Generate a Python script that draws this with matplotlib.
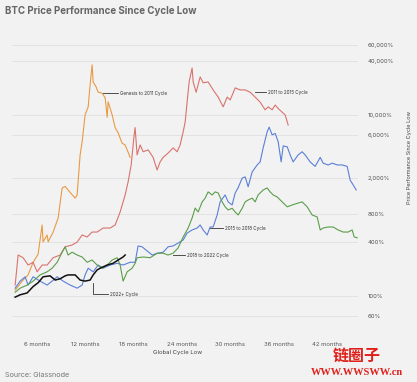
import matplotlib
matplotlib.use("Agg")
import matplotlib.pyplot as plt
from matplotlib.ticker import FixedLocator, NullLocator

plt.rcParams['font.family'] = ['Inter', 'DejaVu Sans']

# x in months since cycle low, y in % performance
genesis_m = [3.27, 4.14, 4.88, 5.5, 6.12, 6.62, 6.74, 7.24, 7.37, 7.99, 8.61, 9.11, 9.48, 10.1,
             10.72, 10.97, 11.09, 11.34, 11.59, 11.96, 12.34, 12.58, 12.83, 12.96, 13.33, 13.58,
             14.07, 14.45, 14.7, 14.82, 15.32, 15.69, 16.06, 16.56, 16.93, 17.3, 17.55]
genesis_v = [116, 146, 171, 236, 290, 611, 397, 473, 397, 510, 730, 1570, 1630, 1400,
             1210, 1313, 1830, 3640, 5100, 10100, 12400, 21700, 36200, 23400, 20600, 18000,
             17600, 15600, 9500, 14100, 10100, 7300, 6400, 4900, 4700, 3900, 3420]

c2011_m = [3.27, 3.64, 4.26, 4.88, 5.5, 6.0, 6.62, 7.24, 7.99, 8.86, 9.48, 10.35, 10.97, 11.59,
           12.21, 12.83, 13.45, 14.2, 15.07, 15.69, 16.31, 16.93, 17.3, 17.68, 18.05, 18.17,
           18.42, 18.79, 19.17, 19.79, 20.41, 20.9, 21.28, 21.65, 22.27, 22.89, 23.39, 23.76,
           24.14, 24.39, 24.63, 24.88, 25.25, 25.38, 25.75, 26.25, 26.62, 27.24, 27.86, 28.49,
           29.11, 29.6, 29.98, 30.6, 31.22, 31.84, 32.46, 33.08, 33.7, 34.32, 34.7, 35.19,
           35.57, 35.94, 36.44, 36.81, 37.18]
c2011_v = [132, 284, 265, 220, 236, 185, 220, 220, 265, 284, 350, 367, 395, 473,
           450, 510, 510, 565, 565, 611, 850, 1313, 1830, 2820, 6070, 7300,
           3640, 4700, 3950, 4140, 3420, 2480, 3050, 3420, 3820, 4360, 3950, 4700,
           6550, 8460, 14000, 23400, 33400, 23400, 18000, 26600, 22900, 23400, 19100, 15900,
           12400, 15900, 14800, 20100, 19100, 19100, 18000, 15900, 14000, 11500, 12400, 11500,
           13000, 11900, 10800, 10100, 7800]

c2015_m = [3.27, 3.89, 4.51, 4.88, 5.5, 6.37, 7.24, 7.86, 8.49, 9.23, 10.1, 10.97, 11.59, 11.96,
           12.34, 12.96, 13.58, 14.2, 15.07, 15.94, 16.68, 17.55, 18.17, 18.54, 19.04, 19.66,
           20.29, 20.91, 21.65, 22.27, 22.89, 23.51, 24.14, 24.63, 25.25, 25.88, 26.25, 26.62,
           27.12, 27.49, 27.86, 28.36, 28.73, 29.35, 29.73, 30.22, 30.6, 30.97, 31.47, 31.84,
           32.21, 32.71, 33.33, 33.7, 34.07, 34.57, 34.82, 35.19, 35.57, 35.94, 36.31, 36.56,
           37.06, 37.43, 37.8, 38.42, 38.92, 39.29, 39.91, 40.53, 41.16, 41.53, 42.15, 42.65,
           43.27, 43.89, 44.51, 44.88, 45.26, 45.63]
c2015_v = [122, 146, 163, 132, 163, 146, 132, 146, 163, 146, 132, 122, 132, 171,
           203, 185, 220, 203, 220, 230, 220, 236, 236, 358, 350, 315,
           284, 297, 305, 350, 358, 385, 417, 497, 538, 565, 611, 538,
           473, 580, 580, 788, 1100, 1313, 1100, 1017, 1380, 1580, 2020, 2080,
           1620, 2360, 2820, 3050, 4350, 6550, 7400, 6070, 6300, 5100, 3050, 4580,
           4480, 3640, 3050, 3640, 3950, 3640, 3050, 2720, 3420, 2950, 2820, 2950,
           2820, 2820, 2720, 1920, 1690, 1490]

c2018_m = [3.27, 3.89, 4.76, 5.5, 6.37, 7.24, 7.86, 8.49, 9.11, 9.48, 9.85, 10.35, 10.97, 11.59,
           12.21, 12.83, 13.45, 14.07, 14.7, 15.32, 15.94, 16.31, 16.68, 17.18, 17.8, 18.17,
           18.42, 19.17, 20.04, 20.91, 21.65, 22.27, 22.89, 23.51, 24.14, 24.76, 25.25, 25.63,
           26.0, 26.5, 26.87, 27.24, 27.74, 28.11, 28.49, 28.98, 29.35, 29.73, 30.22, 30.6,
           30.97, 31.47, 31.84, 32.21, 32.71, 33.08, 33.45, 34.07, 34.57, 34.94, 35.32, 35.81,
           36.44, 37.06, 37.68, 38.3, 38.92, 39.54, 40.16, 40.78, 41.16, 41.53, 42.15, 42.77,
           43.39, 44.01, 44.63, 45.13, 45.38, 45.75]
c2018_v = [110, 122, 132, 146, 171, 185, 203, 236, 305, 350, 284, 305, 284, 270,
           236, 250, 220, 203, 220, 250, 265, 220, 146, 185, 203, 230,
           265, 270, 265, 297, 297, 284, 297, 340, 450, 565, 730, 940,
           850, 1100, 1210, 1420, 1313, 1420, 1380, 1100, 970, 895, 935, 850,
           788, 935, 1100, 1155, 1210, 1100, 1313, 1490, 1570, 1420, 1313, 1250,
           1100, 970, 1017, 1060, 1100, 970, 788, 750, 538, 565, 580, 580,
           538, 510, 510, 538, 450, 440]

c2022_m = [3.27, 3.89, 4.76, 5.5, 6.12, 6.74, 7.61, 8.24, 8.86, 9.48, 9.85, 10.72, 11.34, 11.96,
           12.58, 12.96, 13.45, 13.83, 14.7, 15.44, 16.06, 16.68, 16.93]
c2022_v = [97, 103, 108, 127, 140, 163, 167, 150, 155, 167, 171, 171, 150, 146,
           150, 171, 194, 203, 220, 230, 250, 270, 284]

month_ticks = [6, 12, 18, 24, 30, 36, 42]
month_labels = ['6 months', '12 months', '18 months', '24 months', '30 months', '36 months', '42 months']
pct_ticks = [60, 100, 400, 800, 2000, 6000, 10000, 40000, 60000]
pct_labels = ['60%', '100%', '400%', '800%', '2,000%', '6,000%', '10,000%', '40,000%', '60,000%']

bg = '#f2f2f2'
fig = plt.figure(figsize=(4.17, 3.82), dpi=100, facecolor=bg)
ax = fig.add_axes([0.029, 0.1675, 0.83, 0.728], facecolor=bg)

ax.plot(genesis_m, genesis_v, color='#e89a45', lw=0.8)
ax.plot(c2011_m, c2011_v, color='#d9736e', lw=0.8)
ax.plot(c2015_m, c2015_v, color='#5a7fd8', lw=0.8)
ax.plot(c2018_m, c2018_v, color='#5a9e4a', lw=0.8)
ax.plot(c2022_m, c2022_v, color='#111111', lw=1.1)

ax.set_yscale('log')
ax.set_xlim(2.89, 45.88)
ax.set_ylim(57, 68300)

ax.yaxis.tick_right()
ax.yaxis.set_major_locator(FixedLocator(pct_ticks))
ax.set_yticklabels(pct_labels)
ax.yaxis.set_minor_locator(NullLocator())
ax.set_xticks(month_ticks)
ax.set_xticklabels(month_labels)
ax.tick_params(axis='both', length=0, labelsize=4.3, colors='#555555')
ax.tick_params(axis='x', pad=17)
ax.tick_params(axis='y', pad=7)
for lab in ax.get_yticklabels():
    lab.set_horizontalalignment('left')

ax.grid(axis='y', color='#e0e0e0', lw=0.6)
ax.grid(axis='x', visible=False)
for s in ax.spines.values():
    s.set_visible(False)

# cycle labels with leader lines
lead = dict(color='#333333', lw=0.6)
txt = dict(fontsize=3.3, color='#333333', va='center')
ax.plot([14.2, 16.1], [17600, 17600], **lead)
ax.text(16.31, 17600, 'Genesis to 2011 Cycle', **txt)
ax.plot([33.08, 34.45], [18000, 18000], **lead)
ax.text(34.7, 18000, '2011 to 2015 Cycle', **txt)
ax.plot([27.49, 29.1], [565, 565], **lead)
ax.text(29.35, 565, '2015 to 2018 Cycle', **txt)
ax.plot([22.89, 24.4], [284, 284], **lead)
ax.text(24.63, 284, '2018 to 2022 Cycle', **txt)
ax.plot([12.96, 12.96, 14.82], [140, 105, 105], **lead)
ax.text(15.1, 105, '2022+ Cycle', **txt)

fig.text(0.012, 0.972, 'BTC Price Performance Since Cycle Low', fontsize=7, fontweight='bold',
         color='#666666', va='center', ha='left')
fig.text(0.427, 0.076, 'Global Cycle Low', fontsize=4.3, color='#444444', ha='center', va='center')
fig.text(0.983, 0.587, 'Price Performance Since Cycle Low', fontsize=4.0, color='#444444',
         rotation=90, ha='center', va='center')
fig.text(0.012, 0.018, 'Source: Glassnode', fontsize=5.2, color='#777777', ha='left', va='center')

# watermark
fig.text(0.856, 0.068, '链圈子', fontsize=11.5, fontweight='bold', color='#e0201b',
         family=['Noto Sans CJK SC', 'DejaVu Sans'], ha='center', va='center')
fig.text(0.856, 0.025, 'WWW.WWSWW.cn', fontsize=7.5, fontweight='bold', color='#e0201b',
         family=['Liberation Serif', 'DejaVu Serif'], ha='center', va='center')

fig.savefig('out.png', dpi=100, facecolor=bg)
